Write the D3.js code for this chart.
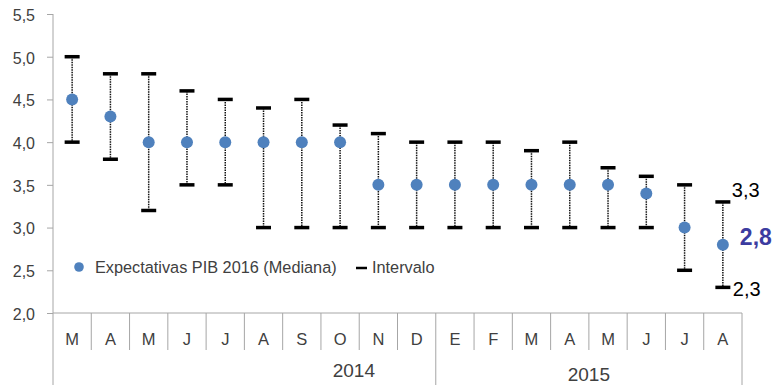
<!DOCTYPE html>
<html>
<head>
<meta charset="utf-8">
<script src="https://cdn.jsdelivr.net/npm/d3@7"></script>
<style>
  html, body { margin: 0; padding: 0; background: #fff; }
  svg { display: block; font-family: "Liberation Sans", Arial, sans-serif; }
</style>
</head>
<body>
<svg id="chart" width="779" height="385"></svg>
<script>
// Survey months (Mar 2014 – Aug 2015)
const months = ["M","A","M","J","J","A","S","O","N","D","E","F","M","A","M","J","J","A"];
const years = ["2014", "2015"];
// Median GDP 2016 expectations and the survey range
const median = [4.5,4.3,4.0,4.0,4.0,4.0,4.0,4.0,3.5,3.5,3.5,3.5,3.5,3.5,3.5,3.4,3.0,2.8];
const high   = [5.0,4.8,4.8,4.6,4.5,4.4,4.5,4.2,4.1,4.0,4.0,4.0,3.9,4.0,3.7,3.6,3.5,3.3];
const low    = [4.0,3.8,3.2,3.5,3.5,3.0,3.0,3.0,3.0,3.0,3.0,3.0,3.0,3.0,3.0,3.0,2.5,2.3];
const yTicks = [2.0,2.5,3.0,3.5,4.0,4.5,5.0,5.5];

const svg = d3.select("#chart");
const plotL = 53, plotR = 742, plotT = 14, plotB = 313;
const fmt = v => d3.format(".1f")(v).replace(".", ",");
const axisColor = "#a6a6a6";
const textColor = "#404040";

const x = d3.scaleBand().domain(d3.range(months.length)).range([plotL, plotR]);
const y = d3.scaleLinear().domain([2, 5.5]).range([plotB, plotT]);
const bw = x.bandwidth();
const cx = i => x(i) + bw / 2;

// Y axis
const yAxis = svg.append("g").attr("transform", `translate(${plotL},0)`)
  .call(d3.axisLeft(y).tickValues(yTicks).tickFormat(fmt).tickSize(6).tickPadding(12));
yAxis.select(".domain").remove();
yAxis.selectAll(".tick line").attr("stroke", axisColor);
yAxis.selectAll(".tick text").attr("fill", textColor).attr("dy", "0.4em")
  .style("font-size", "16px").style("font-family", "Liberation Sans, Arial, sans-serif");
svg.append("line").attr("x1", plotL).attr("x2", plotL).attr("y1", plotT).attr("y2", 385)
  .attr("stroke", axisColor);

// X axis baseline
svg.append("line").attr("x1", plotL).attr("x2", plotR).attr("y1", plotB).attr("y2", plotB)
  .attr("stroke", axisColor);

// Month separators (year boundaries run to the bottom edge) and labels
const yearEnds = [10, months.length];
svg.append("g").selectAll("line").data(d3.range(1, months.length + 1)).join("line")
  .attr("x1", i => x(i - 1) + bw).attr("x2", i => x(i - 1) + bw)
  .attr("y1", plotB).attr("y2", i => yearEnds.includes(i) ? 385 : 350)
  .attr("stroke", axisColor);
svg.append("g").selectAll("text").data(months).join("text")
  .attr("x", (d, i) => cx(i)).attr("y", 345)
  .attr("text-anchor", "middle").attr("fill", textColor).style("font-size", "16.5px")
  .text(d => d);

// Year labels
const yearPos = [{ at: 7.86, base: 377 }, { at: 14.0, base: 381 }];
svg.append("g").selectAll("text").data(years).join("text")
  .attr("x", (d, i) => x(0) + yearPos[i].at * bw).attr("y", (d, i) => yearPos[i].base)
  .attr("text-anchor", "middle").attr("fill", textColor).style("font-size", "19px")
  .text(d => d);

// Range whiskers
const g = svg.append("g");
g.selectAll("line.whisker").data(median).join("line").attr("class", "whisker")
  .attr("x1", (d, i) => cx(i)).attr("x2", (d, i) => cx(i))
  .attr("y1", (d, i) => y(high[i])).attr("y2", (d, i) => y(low[i]))
  .attr("stroke", "#111").attr("stroke-width", 1.5).attr("stroke-dasharray", "1.5,1");
g.selectAll("line.capHi").data(high).join("line").attr("class", "capHi")
  .attr("x1", (d, i) => cx(i) - 7.5).attr("x2", (d, i) => cx(i) + 7.5)
  .attr("y1", d => y(d)).attr("y2", d => y(d))
  .attr("stroke", "#000").attr("stroke-width", 3.5);
g.selectAll("line.capLo").data(low).join("line").attr("class", "capLo")
  .attr("x1", (d, i) => cx(i) - 7.5).attr("x2", (d, i) => cx(i) + 7.5)
  .attr("y1", d => y(d)).attr("y2", d => y(d))
  .attr("stroke", "#000").attr("stroke-width", 3.5);

// Median markers
g.selectAll("circle").data(median).join("circle")
  .attr("cx", (d, i) => cx(i)).attr("cy", d => y(d)).attr("r", 6)
  .attr("fill", "#4f81bd");

// Latest values
const last = median.length - 1;
svg.append("text").attr("x", cx(last) + 9).attr("y", y(high[last]) - 5)
  .attr("fill", "#000").style("font-size", "20px").text(fmt(high[last]));
svg.append("text").attr("x", cx(last) + 10).attr("y", y(low[last]) + 9)
  .attr("fill", "#000").style("font-size", "20px").text(fmt(low[last]));
svg.append("text").attr("x", cx(last) + 17).attr("y", y(median[last]) + 0.5)
  .attr("fill", "#3c3ca0").style("font-size", "23px").style("font-weight", "bold")
  .text(fmt(median[last]));

// Legend
const lg = svg.append("g");
lg.append("circle").attr("cx", 79).attr("cy", 267).attr("r", 4.8).attr("fill", "#4f81bd");
lg.append("text").attr("x", 95).attr("y", 273).attr("fill", textColor).style("font-size", "16.3px")
  .text("Expectativas PIB 2016 (Mediana)");
lg.append("line").attr("x1", 356).attr("x2", 367).attr("y1", 268).attr("y2", 268)
  .attr("stroke", "#000").attr("stroke-width", 2.5);
lg.append("text").attr("x", 372).attr("y", 273).attr("fill", textColor).style("font-size", "16.3px")
  .text("Intervalo");
</script>
</body>
</html>
